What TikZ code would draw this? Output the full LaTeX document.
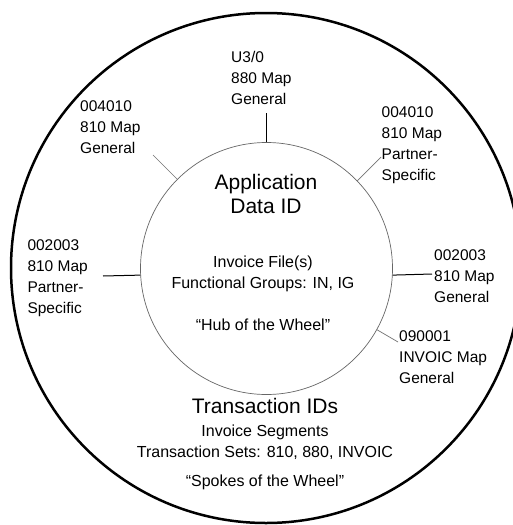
\documentclass[tikz,border=0pt]{standalone}
\usepackage{fontspec}
\setmainfont{Liberation Sans}
\begin{document}
\begin{tikzpicture}[x=1pt,y=-1pt,
  lbl/.style={anchor=base west, inner sep=0pt, font=\fontsize{15.5}{21}\selectfont},
  ctr/.style={anchor=base, inner sep=0pt},
  spkdark/.style={draw=black, line width=1pt},
  spklight/.style={draw=black!55, line width=0.7pt}]
\useasboundingbox (0,0) rectangle (513,525);
\fill[white] (0,0) rectangle (513,525);
% outer rim
\node[circle, draw=black, line width=2.5pt, minimum size=510pt, inner sep=0pt] (rim) at (266,268) {};
% hub
\node[circle, draw=black!60, line width=0.7pt, minimum size=252pt, inner sep=0pt] (hub) at (266.5,268.5) {};
% hub texts
\node[ctr, font=\fontsize{21}{24}\selectfont] (hubtitle) at (266,189.3)
  {\begin{tabular}[t]{@{}c@{}}Application\\Data ID\end{tabular}};
\node[ctr, font=\fontsize{16}{21}\selectfont] (hubtext) at (263,267)
  {\begin{tabular}[t]{@{}c@{}}Invoice File(s)\\Functional Groups: IN, IG\\[21pt]“Hub of the Wheel”\end{tabular}};
% spokes texts
\node[ctr, font=\fontsize{21}{24}\selectfont] (sptitle) at (265,413) {Transaction IDs};
\node[ctr, font=\fontsize{16}{20.6}\selectfont] (sptext) at (265,436.7)
  {\begin{tabular}[t]{@{}c@{}}Invoice Segments\\Transaction Sets: 810, 880, INVOIC\\[8.8pt]“Spokes of the Wheel”\end{tabular}};
% labels
\node[lbl] (ltop) at (231,62.7) {\begin{tabular}[t]{@{}l@{}}U3/0\\880 Map\\General\end{tabular}};
\node[lbl] (lul) at (80,111) {\begin{tabular}[t]{@{}l@{}}004010\\810 Map\\General\end{tabular}};
\node[lbl] (lur) at (381.5,117.3) {\begin{tabular}[t]{@{}l@{}}004010\\810 Map\\Partner-\\Specific\end{tabular}};
\node[lbl] (lleft) at (27.3,250) {\begin{tabular}[t]{@{}l@{}}002003\\810 Map\\Partner-\\Specific\end{tabular}};
\node[lbl] (lright) at (434,260.7) {\begin{tabular}[t]{@{}l@{}}002003\\810 Map\\General\end{tabular}};
\node[lbl] (llr) at (399,341) {\begin{tabular}[t]{@{}l@{}}090001\\INVOIC Map\\General\end{tabular}};
% spoke ends
\coordinate (etop) at (266.5,113);
\coordinate (eul) at (153,155);
\coordinate (eur) at (381,157);
\coordinate (eleft) at (103,276);
\coordinate (eright) at (432,274);
\coordinate (elr) at (398,342);
% spokes
\draw[spkdark] (hub.90) -- (etop);
\draw[spklight] (hub.135) -- (eul);
\draw[spklight] (hub.44) -- (eur);
\draw[spkdark] (hub.183.6) -- (eleft);
\draw[spkdark] (hub.357.3) -- (eright);
\draw[spklight] (hub.331.8) -- (elr);
\end{tikzpicture}
\end{document}
